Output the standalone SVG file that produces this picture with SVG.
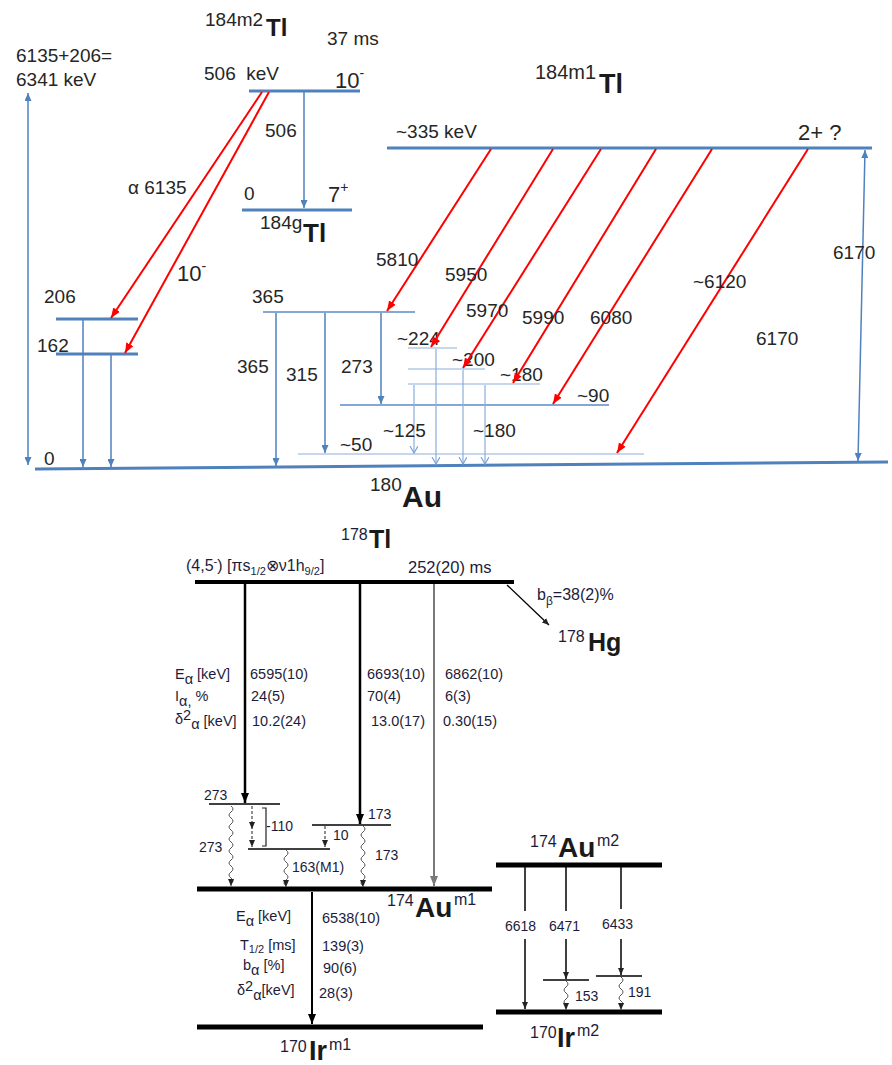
<svg xmlns="http://www.w3.org/2000/svg" width="892" height="1065" viewBox="0 0 892 1065">
<defs>
<marker id="bh" markerUnits="userSpaceOnUse" markerWidth="8" markerHeight="7" refX="8" refY="3.5" orient="auto-start-reverse"><path d="M0,0 L8,3.5 L0,7 z" fill="#4F81BD"/></marker>
<marker id="bo" markerUnits="userSpaceOnUse" markerWidth="9" markerHeight="9" refX="7" refY="4" orient="auto"><path d="M0,0 L7,4 L0,8" fill="none" stroke="#7FA3D6" stroke-width="1.2"/></marker>
<marker id="rh" markerUnits="userSpaceOnUse" markerWidth="11" markerHeight="9" refX="10" refY="4" orient="auto"><path d="M0,0 L10,4 L0,8 z" fill="#FF0000"/></marker>
<marker id="kh" markerUnits="userSpaceOnUse" markerWidth="11" markerHeight="9" refX="10" refY="4" orient="auto"><path d="M0,0 L10,4 L0,8 z" fill="#000"/></marker>
<marker id="gh" markerUnits="userSpaceOnUse" markerWidth="11" markerHeight="9" refX="10" refY="4" orient="auto"><path d="M0,0 L10,4 L0,8 z" fill="#7a7a7a"/></marker>
<marker id="ks" markerUnits="userSpaceOnUse" markerWidth="8" markerHeight="7" refX="7" refY="3" orient="auto"><path d="M0,0 L7,3 L0,6 z" fill="#222"/></marker>
</defs>
<style>
text{font-family:"Liberation Sans",Arial,sans-serif}
.t{font-size:19px;fill:#262626}
.bg{font-size:22px;fill:#262626}
.el{font-weight:bold;fill:#1a1a1a}
.lv{stroke:#4F81BD;stroke-width:3;fill:none}
.lt{stroke:#5B8BC8;stroke-width:1.5;fill:none}
.lf{stroke:#8CAEDB;stroke-width:1.2;fill:none}
.ar{stroke:#4F81BD;stroke-width:1.5;fill:none;marker-end:url(#bh)}
.ao{stroke:#8CAEDB;stroke-width:1.2;fill:none;marker-end:url(#bo)}
.ra{stroke:#FF0000;stroke-width:2;fill:none;marker-end:url(#rh)}
.kl{stroke:#000;fill:none}
.b{font-size:14.5px;fill:#1c1c3a}
.s{font-size:14px;fill:#1c1c3a}
.iso{font-size:16px;fill:#1c1c3a}
.wv{stroke:#555;stroke-width:1;fill:none;marker-end:url(#ks)}
.ds{stroke:#444;stroke-width:1.2;fill:none;stroke-dasharray:3 2;marker-end:url(#ks)}
</style>
<rect width="892" height="1065" fill="#fff"/>

<!-- ===== top diagram ===== -->
<g id="q-value">
<text class="t" x="16" y="62">6135+206=</text>
<text class="t" x="16" y="86">6341 keV</text>
</g>

<g id="n184m2">
<text class="t" x="205" y="26">184m2</text><text class="el" x="266" y="36" font-size="24">Tl</text>
<text class="t" x="327" y="45">37 ms</text>
<text class="t" x="204" y="80" xml:space="preserve">506  keV</text>
<text class="bg" x="335" y="88">10<tspan font-size="14" dy="-10">-</tspan></text>
<line class="lv" x1="249" y1="91" x2="360" y2="91"/>
</g>

<g id="n184g">
<line class="lv" x1="242" y1="210" x2="352" y2="210"/>
<text class="t" x="244" y="200">0</text>
<text class="bg" x="328" y="202">7<tspan font-size="14" dy="-10">+</tspan></text>
<text class="t" x="260" y="229">184g</text><text class="el" x="303" y="242" font-size="26">Tl</text>
</g>

<g id="n184m1">
<text class="t" x="535" y="79" style="font-size:20px">184m1</text><text class="el" x="599" y="93" font-size="27">Tl</text>
<text class="t" x="396" y="138">~335 keV</text>
<text class="bg" x="798" y="140">2+ ?</text>
<line class="lv" x1="387" y1="148" x2="872" y2="148"/>
</g>

<g id="n180Au">
<line class="lv" x1="35" y1="469" x2="888" y2="462"/>
<text class="t" x="44" y="465">0</text>
<text class="t" x="370" y="491">180</text><text class="el" x="402" y="507" font-size="30">Au</text>
</g>

<g id="l206"><line class="lv" x1="56" y1="319" x2="138" y2="319"/><text class="t" x="44" y="303">206</text></g>
<g id="l162"><line class="lv" x1="56" y1="354" x2="138" y2="354"/><text class="t" x="37" y="352">162</text></g>
<g id="l365"><line class="lt" x1="263" y1="312" x2="415" y2="312"/><text class="t" x="252" y="303">365</text></g>
<g id="l224"><line class="lf" x1="408" y1="348" x2="457" y2="348"/><text class="t" x="397" y="345">~224</text></g>
<g id="l200"><line class="lf" x1="408" y1="369" x2="485" y2="369"/><text class="t" x="452" y="366">~200</text></g>
<g id="l180"><line class="lf" x1="408" y1="384" x2="540" y2="384"/><text class="t" x="500" y="381">~180</text></g>
<g id="l90"><line class="lt" x1="340" y1="405" x2="609" y2="405"/><text class="t" x="577" y="402">~90</text></g>
<g id="l50"><line class="lf" x1="298" y1="454" x2="644" y2="454"/><text class="t" x="340" y="451">~50</text></g>

<!-- ===== bottom diagram ===== -->
<g id="n178Tl">
<text class="iso" x="341" y="540">178</text><text class="el" x="369" y="548" font-size="25">Tl</text>
<text class="b" x="186" y="571" style="font-size:16px">(4,5<tspan font-size="11" dy="-6">-</tspan><tspan dy="6">)  [πs</tspan><tspan font-size="11" dy="4">1/2</tspan><tspan dy="-4">⊗ν1h</tspan><tspan font-size="11" dy="4">9/2</tspan><tspan dy="-4">]</tspan></text>
<text class="b" x="408" y="573" style="font-size:16.5px">252(20) ms</text>
<line class="kl" stroke-width="4" x1="195" y1="582" x2="514" y2="582"/>
</g>

<g id="n178Hg">
<text class="b" x="537" y="600" style="font-size:16px">b<tspan font-size="12" dy="5">β</tspan><tspan dy="-5">=38(2)%</tspan></text>
<text class="iso" x="558" y="642">178</text><text class="el" x="588" y="651" font-size="25">Hg</text>
</g>

<g id="alpha-table">
<text class="b" x="175" y="679">E<tspan dy="5">α</tspan><tspan dy="-5"> [keV]</tspan></text>
<text class="b" x="175" y="701">I<tspan dy="5">α,</tspan><tspan dy="-5"> %</tspan></text>
<text class="b" x="175" y="724">δ<tspan dy="-4">2</tspan><tspan dy="9">α</tspan><tspan dy="-3"> [keV]</tspan></text>
<text class="b" x="250" y="679">6595(10)</text>
<text class="b" x="251" y="701">24(5)</text>
<text class="b" x="252" y="726">10.2(24)</text>
<text class="b" x="367" y="679">6693(10)</text>
<text class="b" x="367" y="701">70(4)</text>
<text class="b" x="371" y="726">13.0(17)</text>
<text class="b" x="445" y="679">6862(10)</text>
<text class="b" x="445" y="701">6(3)</text>
<text class="b" x="443" y="726">0.30(15)</text>
</g>

<g id="l273"><line class="kl" stroke-width="1.3" x1="209" y1="804" x2="280" y2="804"/><text class="s" x="204" y="800">273</text></g>
<g id="l173"><line class="kl" stroke-width="1.3" x1="312" y1="825" x2="391" y2="825"/><text class="s" x="368" y="819">173</text></g>
<g id="l163"><line class="kl" stroke-width="1.3" x1="248" y1="849" x2="330" y2="849"/></g>

<g id="n174Aum1">
<line class="kl" stroke-width="5" x1="197" y1="889" x2="492" y2="889"/>
<text class="iso" x="387" y="906">174</text><text class="el" x="415" y="917" font-size="28">Au</text><text class="iso" x="454" y="905">m1</text>
</g>

<g id="decay-table">
<text class="b" x="236" y="921">E<tspan dy="5">α</tspan><tspan dy="-5"> [keV]</tspan></text>
<text class="b" x="240" y="950">T<tspan font-size="11" dy="3">1/2</tspan><tspan dy="-3"> [ms]</tspan></text>
<text class="b" x="243" y="970">b<tspan dy="5">α</tspan><tspan dy="-5"> [%]</tspan></text>
<text class="b" x="237" y="995">δ<tspan dy="-4">2</tspan><tspan dy="9">α</tspan><tspan dy="-5">[keV]</tspan></text>
<text class="b" x="322" y="923">6538(10)</text>
<text class="b" x="322" y="951">139(3)</text>
<text class="b" x="323" y="973">90(6)</text>
<text class="b" x="319" y="998">28(3)</text>
</g>

<g id="n170Irm1">
<line class="kl" stroke-width="5" x1="197" y1="1027" x2="483" y2="1027"/>
<text class="iso" x="280" y="1052">170</text><text class="el" x="309" y="1060" font-size="27">Ir</text><text class="iso" x="329" y="1050">m1</text>
</g>

<g id="n174Aum2">
<line class="kl" stroke-width="5" x1="496" y1="865" x2="662" y2="865"/>
<text class="iso" x="530" y="847">174</text><text class="el" x="558" y="857" font-size="28">Au</text><text class="iso" x="597" y="846">m2</text>
</g>
<g id="l153"><line class="kl" stroke-width="1.3" x1="543" y1="980" x2="589" y2="980"/></g>
<g id="l191"><line class="kl" stroke-width="1.3" x1="596" y1="976" x2="642" y2="976"/></g>
<g id="n170Irm2">
<line class="kl" stroke-width="5" x1="496" y1="1012" x2="662" y2="1012"/>
<text class="iso" x="530" y="1038">170</text><text class="el" x="557" y="1047" font-size="27">Ir</text><text class="iso" x="577" y="1036">m2</text>
</g>

<!-- ===== connectors ===== -->
<g id="connectors">
<line x1="28" y1="465" x2="28" y2="93" class="ar" marker-start="url(#bh)"/>
<line x1="858" y1="461" x2="865" y2="150" class="ar" marker-start="url(#bh)"/>
<line x1="304" y1="92" x2="304" y2="208" class="ar"/>
<line x1="83" y1="320" x2="83" y2="467" class="ar"/>
<line x1="111" y1="355" x2="111" y2="467" class="ar"/>
<line x1="276" y1="313" x2="276" y2="466" class="ar"/>
<line x1="325" y1="313" x2="325" y2="453" class="ar"/>
<line x1="381" y1="313" x2="381" y2="404" class="ar"/>
<line x1="414" y1="385" x2="414" y2="453" class="ao"/>
<line x1="436" y1="349" x2="436" y2="464" class="ao"/>
<line x1="463" y1="370" x2="463" y2="464" class="ao"/>
<line x1="485" y1="385" x2="485" y2="464" class="ao"/>
<line x1="262" y1="92" x2="111" y2="318" class="ra"/>
<line x1="269" y1="92" x2="125" y2="353" class="ra"/>
<line x1="491" y1="149" x2="387" y2="311" class="ra"/>
<line x1="553" y1="149" x2="431" y2="347" class="ra"/>
<line x1="601" y1="149" x2="463" y2="368" class="ra"/>
<line x1="656" y1="149" x2="513" y2="383" class="ra"/>
<line x1="712" y1="149" x2="553" y2="404" class="ra"/>
<line x1="808" y1="149" x2="617" y2="453" class="ra"/>
<text class="t" x="265" y="137">506</text>
<text class="t" x="128" y="194">α 6135</text>
<text class="bg" x="177" y="281">10<tspan font-size="14" dy="-10">-</tspan></text>
<text class="t" x="237" y="373">365</text>
<text class="t" x="286" y="381">315</text>
<text class="t" x="341" y="373">273</text>
<text class="t" x="383" y="437">~125</text>
<text class="t" x="473" y="437">~180</text>
<text class="t" x="376" y="266">5810</text>
<text class="t" x="445" y="281">5950</text>
<text class="t" x="466" y="317">5970</text>
<text class="t" x="522" y="324">5990</text>
<text class="t" x="590" y="324">6080</text>
<text class="t" x="693" y="288">~6120</text>
<text class="t" x="756" y="345">6170</text>
<text class="t" x="833" y="259">6170</text>

<line x1="507" y1="585" x2="549" y2="625" class="kl" stroke-width="1.3" marker-end="url(#ks)"/>
<line x1="245" y1="584" x2="245" y2="803" class="kl" stroke-width="2.5" marker-end="url(#kh)"/>
<line x1="360" y1="584" x2="360" y2="824" class="kl" stroke-width="2.5" marker-end="url(#kh)"/>
<line x1="434" y1="584" x2="434" y2="886" stroke="#7a7a7a" stroke-width="2" marker-end="url(#gh)"/>
<line x1="312" y1="892" x2="312" y2="1024" class="kl" stroke-width="2" marker-end="url(#kh)"/>

<path class="wv" d="M231 806 q4 3 0 6 q-4 3 0 6 q4 3 0 6 q-4 3 0 6 q4 3 0 6 q-4 3 0 6 q4 3 0 6 q-4 3 0 6 q4 3 0 6 q-4 3 0 6 q4 3 0 6 q-4 3 0 6 q4 3 0 6 v2"/>
<path class="wv" d="M286 850 q4 3 0 6 q-4 3 0 6 q4 3 0 6 q-4 3 0 6 q4 3 0 6 q-4 3 0 6 v1"/>
<path class="wv" d="M363 826 q4 3 0 6 q-4 3 0 6 q4 3 0 6 q-4 3 0 6 q4 3 0 6 q-4 3 0 6 q4 3 0 6 q-4 3 0 6 q4 3 0 6 q-4 3 0 6 v1"/>
<path class="ds" d="M252 806 V829"/>
<path class="ds" d="M252 831 V847"/>
<path class="ds" d="M325 826 V847"/>
<polyline points="262,808 266,808 266,846 262,846" fill="none" stroke="#222" stroke-width="1.2"/>

<text class="s" x="266" y="831">-110</text>
<text class="s" x="333" y="840">10</text>
<text class="s" x="199" y="852">273</text>
<text class="s" x="292" y="872">163(M1)</text>
<text class="s" x="375" y="860">173</text>

<line x1="525" y1="867" x2="525" y2="911" class="kl" stroke-width="1.5"/>
<line x1="525" y1="939" x2="525" y2="1009" class="kl" stroke-width="1.5" marker-end="url(#ks)"/>
<line x1="566" y1="867" x2="566" y2="911" class="kl" stroke-width="1.5"/>
<line x1="566" y1="939" x2="566" y2="979" class="kl" stroke-width="1.5" marker-end="url(#ks)"/>
<line x1="621" y1="867" x2="621" y2="909" class="kl" stroke-width="1.5"/>
<line x1="621" y1="939" x2="621" y2="975" class="kl" stroke-width="1.5" marker-end="url(#ks)"/>
<path class="wv" d="M566 981 q4 3 0 6 q-4 3 0 6 q4 3 0 6 q-4 3 0 6 v5"/>
<path class="wv" d="M621 977 q4 3 0 6 q-4 3 0 6 q4 3 0 6 q-4 3 0 6 q4 3 0 6 v3"/>
<text class="s" x="505" y="931">6618</text>
<text class="s" x="549" y="931">6471</text>
<text class="s" x="602" y="929">6433</text>
<text class="s" x="575" y="1001">153</text>
<text class="s" x="628" y="997">191</text>
</g>
</svg>
